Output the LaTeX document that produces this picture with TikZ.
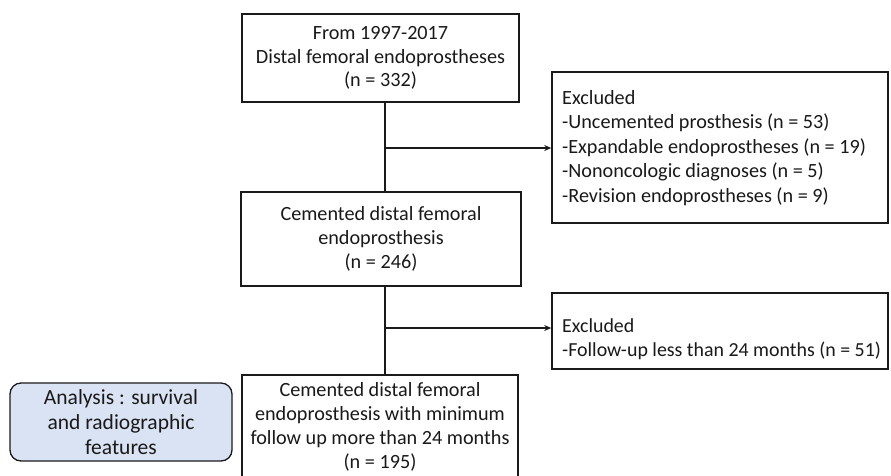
\documentclass[tikz,border=0pt]{standalone}
\usepackage{fontspec}
\setmainfont{Carlito}
\usetikzlibrary{arrows.meta}
\definecolor{boxline}{HTML}{1A1A1A}
\definecolor{anfill}{HTML}{DAE3F3}
\begin{document}
\begin{tikzpicture}[x=1pt,y=-1pt,
  every node/.style={font=\fontsize{20.2}{23.8}\selectfont, text=black!90},
  mainbox/.style={draw=boxline, line width=1.5pt, align=center, inner sep=0pt},
  exbox/.style={draw=boxline, line width=1.5pt, inner sep=0pt, minimum width=336pt},
  extext/.style={anchor=west, align=left, inner sep=0pt},
  anbox/.style={draw=boxline, line width=1.3pt, fill=anfill, rounded corners=11pt, align=center, inner sep=0pt, minimum width=222pt, minimum height=78pt, font=\fontsize{21.5}{25}\selectfont},
  conn/.style={draw=boxline, line width=1.3pt},
  arr/.style={conn, -{Stealth[length=7pt,width=6pt]}}]
\useasboundingbox (0,0) rectangle (891,475);
\clip (0,0) rectangle (891,475);
\fill[white] (0,0) rectangle (891,475);
% main boxes
\node[mainbox, minimum width=277pt, minimum height=88pt] (b1) at (380.5,58) {From 1997-2017\\Distal femoral endoprostheses\\(n = 332)};
\node[mainbox, minimum width=280pt, minimum height=94pt] (b3) at (381,239) {Cemented distal femoral\\endoprosthesis\\(n = 246)};
\node[mainbox, minimum width=276pt, minimum height=104pt] (b5) at (380,427) {Cemented distal femoral\\endoprosthesis with minimum\\follow up more than 24 months\\(n = 195)};
% exclusion boxes
\node[exbox, minimum height=151pt] (ex1) at (720,147.5) {};
\node[extext, font=\fontsize{20.2}{24.5}\selectfont] (ex1t) at (562,148) {Excluded\\-Uncemented prosthesis (n = 53)\\-Expandable endoprostheses (n = 19)\\-Nononcologic diagnoses (n = 5)\\-Revision endoprostheses (n = 9)};
\node[exbox, minimum height=76pt] (ex2) at (720,331) {};
\node[extext, font=\fontsize{19.9}{23.8}\selectfont] (ex2t) at (562,339) {Excluded\\-Follow-up less than 24 months (n = 51)};
% analysis box
\node[anbox] (an) at (121,422) {Analysis : survival\\and radiographic\\features};
% connectors
\coordinate (j1) at (385,148);
\coordinate (j2) at (385,328);
\draw[conn] (b1.south -| j1) -- (b3.north -| j1);
\draw[conn] (b3.south -| j2) -- (b5.north -| j2);
\draw[arr] (j1) -- (j1 -| ex1.west);
\draw[arr] (j2) -- (j2 -| ex2.west);
\end{tikzpicture}
\end{document}
